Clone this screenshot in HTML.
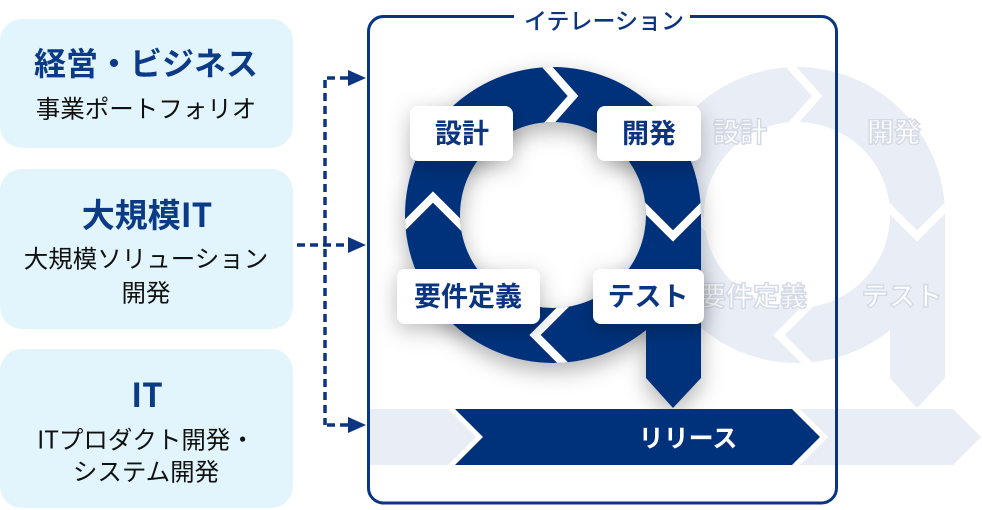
<!DOCTYPE html>
<html>
<head>
<meta charset="utf-8">
<style>
html,body{margin:0;padding:0;background:#fff;}
body{width:982px;height:510px;overflow:hidden;}
svg{display:block;}
text{font-family:"Liberation Sans","Noto Sans CJK JP",sans-serif;}
.cj{font-family:"Noto Sans CJK JP","Liberation Sans",sans-serif;}
</style>
</head>
<body>
<svg width="982" height="510" viewBox="0 0 982 510" xmlns="http://www.w3.org/2000/svg">
  <defs>
    <filter id="sh" x="-20%" y="-20%" width="140%" height="150%">
      <feDropShadow dx="0" dy="8" stdDeviation="11" flood-color="#000" flood-opacity="0.3"/>
    </filter>
    <filter id="lsh" x="-40%" y="-50%" width="180%" height="220%">
      <feDropShadow dx="0" dy="6" stdDeviation="11" flood-color="#000" flood-opacity="0.26"/>
    </filter>
    <clipPath id="qclip">
      <path clip-rule="nonzero" d="M701,215 A148,148 0 1 1 405,215 A148,148 0 1 1 701,215 Z M646,215 A93,93 0 1 0 460,215 A93,93 0 1 0 646,215 Z M646,215 L701,215 L701,378 L673,408 L646,378 Z"/>
    </clipPath>
    <clipPath id="gclip">
      <path clip-rule="nonzero" d="M945,215 A148,148 0 1 1 649,215 A148,148 0 1 1 945,215 Z M890,215 A93,93 0 1 0 704,215 A93,93 0 1 0 890,215 Z M890,215 L945,215 L945,378 L917,408 L890,378 Z"/>
    </clipPath>
  </defs>

  <!-- left boxes -->
  <rect x="0" y="19" width="293" height="129" rx="22" fill="#e2f5fc"/>
  <rect x="0" y="169" width="293" height="160" rx="22" fill="#e2f5fc"/>
  <rect x="0" y="349" width="293" height="159" rx="22" fill="#e2f5fc"/>

  <text class="cj" x="146" y="62" text-anchor="middle" dominant-baseline="central" font-size="32" font-weight="700" fill="#0b3a86">経営・ビジネス</text>
  <text class="cj" x="146" y="108" text-anchor="middle" dominant-baseline="central" font-size="24.5" fill="#111">事業ポートフォリオ</text>

  <text class="cj" x="147" y="213" text-anchor="middle" dominant-baseline="central" font-size="33" font-weight="700" fill="#0b3a86">大規模IT</text>
  <text class="cj" x="146" y="258" text-anchor="middle" dominant-baseline="central" font-size="24.5" fill="#111">大規模ソリューション</text>
  <text class="cj" x="146" y="292" text-anchor="middle" dominant-baseline="central" font-size="24.5" fill="#111">開発</text>

  <text class="cj" x="147" y="393" text-anchor="middle" dominant-baseline="central" font-size="33" font-weight="700" fill="#0b3a86">IT</text>
  <text class="cj" x="146" y="439" text-anchor="middle" dominant-baseline="central" font-size="24.5" fill="#111">ITプロダクト開発・</text>
  <text class="cj" x="146" y="471" text-anchor="middle" dominant-baseline="central" font-size="24.5" fill="#111">システム開発</text>

  <!-- dashed connectors -->
  <g stroke="#0b3581" stroke-width="3.5" fill="none" stroke-dasharray="8 5">
    <path d="M325,80 L325,425"/>
    <path d="M327,78 L349,78"/>
    <path d="M297,245 L349,245"/>
    <path d="M327,425 L349,425"/>
  </g>
  <g fill="#0b3581">
    <polygon points="348,70 366,78 348,86"/>
    <polygon points="348,237 366,245 348,253"/>
    <polygon points="348,417 366,425 348,433"/>
  </g>

  <!-- light release bars -->
  <polygon points="370,409 448,409 476,437 448,465 370,465" fill="#e9edf6"/>
  <polygon points="800,409 953,409 981,437 953,465 800,465 828,437" fill="#e9edf6"/>

  <!-- ghost q -->
  <g clip-path="url(#gclip)">
    <rect x="640" y="60" width="320" height="360" fill="#e9edf6"/>
    <g stroke="#fff" stroke-width="8" fill="none" stroke-linejoin="miter">
      <polyline points="785,60 817,96 787,130"/>
      <polyline points="884,203 917,236 950,203"/>
      <polyline points="642,232 677,197 712,232"/>
      <polyline points="814,300 779,335 816,372"/>
    </g>
  </g>
  <g class="cj" font-size="27" font-weight="700" fill="#fff" stroke="#d3d9e5" stroke-width="1.4" text-anchor="middle" dominant-baseline="central">
    <text x="740" y="133">設計</text>
    <text x="894" y="133">開発</text>
    <text x="753" y="297">要件定義</text>
    <text x="902" y="297">テスト</text>
  </g>

  <!-- dark q -->
  <g filter="url(#sh)">
    <g clip-path="url(#qclip)">
      <rect x="395" y="60" width="320" height="360" fill="#00317b"/>
      <g stroke="#fff" stroke-width="8" fill="none" stroke-linejoin="miter">
        <polyline points="541,60 573,96 543,130"/>
        <polyline points="640,203 673,236 706,203"/>
        <polyline points="398,232 433,197 468,232"/>
        <polyline points="570,300 535,335 572,372"/>
      </g>
    </g>
  </g>

  <!-- dark release bar -->
  <polygon points="455,409 792,409 820,437 792,465 455,465 483,437" fill="#00317b"/>
  <text class="cj" x="688" y="437" text-anchor="middle" dominant-baseline="central" font-size="25" font-weight="700" fill="#fff">リリース</text>

  <!-- frame -->
  <rect x="368.5" y="16.5" width="468" height="486.5" rx="15" fill="none" stroke="#0b3581" stroke-width="3"/>
  <rect x="514" y="4" width="176" height="26" fill="#fff"/>
  <text class="cj" x="604" y="19" text-anchor="middle" dominant-baseline="central" font-size="23" font-weight="500" fill="#0b3581">イテレーション</text>

  <!-- labels -->
  <g filter="url(#lsh)" fill="#fff">
    <rect x="410" y="106" width="103" height="55" rx="8"/>
    <rect x="597" y="106" width="104" height="55" rx="8"/>
    <rect x="397" y="269" width="143" height="55" rx="8"/>
    <rect x="593" y="269" width="111" height="55" rx="8"/>
  </g>
  <g class="cj" font-size="27" font-weight="700" fill="#0b3581" text-anchor="middle" dominant-baseline="central">
    <text x="462" y="134">設計</text>
    <text x="649" y="134">開発</text>
    <text x="468" y="297">要件定義</text>
    <text x="648" y="297">テスト</text>
  </g>
</svg>
</body>
</html>
